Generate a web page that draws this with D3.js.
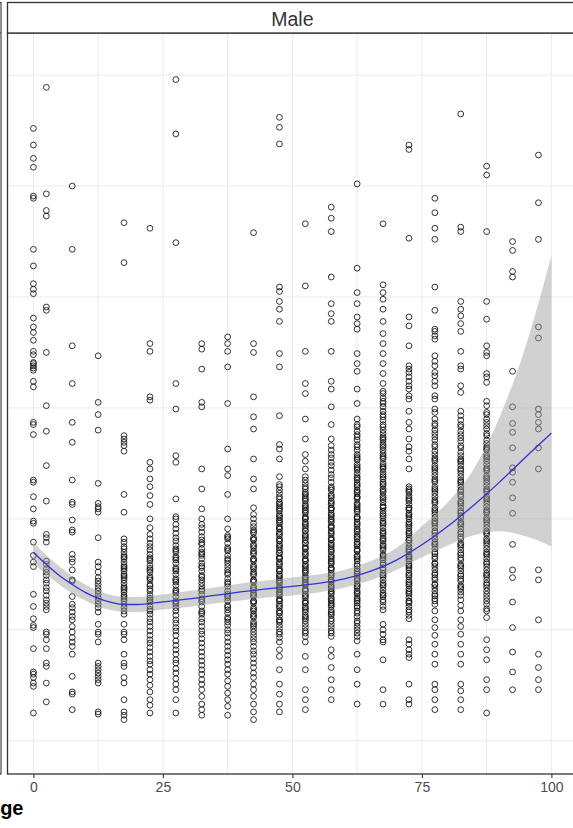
<!DOCTYPE html>
<html>
<head>
<meta charset="utf-8">
<script src="https://cdn.jsdelivr.net/npm/d3@7/dist/d3.min.js"></script>
<style>
  body { margin: 0; background: #fff; }
  svg { display: block; font-family: "Liberation Sans", Arial, Helvetica, sans-serif; }
</style>
</head>
<body>
<svg id="chart" width="573" height="828"></svg>
<script>
// Age groups (x) and the observed values for each group (y)
const ageGroups = [0, 2.5, 7.5, 12.5, 17.5, 22.5, 27.5, 32.5, 37.5, 42.5, 47.5,
                   52.5, 57.5, 62.5, 67.5, 72.5, 77.5, 82.5, 87.5, 92.5, 97.5];

const age0 = [65.2, 63.7, 62.5, 61.7, 58.9, 59.1, 54.3, 52.8, 51.2, 50.7, 50.3, 48.1, 47.3, 46.8, 46.1,
  45.1, 44.8, 44.1, 43.6, 43.8, 44.0, 43.4, 42.4, 41.9, 38.5, 38.7, 37.6, 33.3, 33.5, 32.0, 30.9,
  29.6, 29.8, 27.9, 26.7, 26.1, 25.7, 23.2, 22.1, 21.0, 20.4, 20.2, 18.3, 16.2, 16.0, 15.7, 15.2, 14.9, 12.5];
const age2_5 = [68.9, 59.3, 57.8, 57.3, 49.1, 48.8, 45.0, 40.2, 37.9, 34.8, 31.6, 28.6, 28.3, 27.9,
  26.2, 25.9, 25.5, 25.2, 24.9, 24.5, 24.2, 23.8, 23.5, 23.1, 22.7, 22.4, 22.1, 21.8,
  19.8, 19.6, 19.1, 18.3, 17.0, 16.7, 15.2, 13.5];
const age7_5 = [60.0, 54.3, 45.6, 42.2, 38.7, 36.9, 33.5, 31.3, 31.5, 29.9, 28.8, 29.0, 26.8, 26.4,
  26.1, 25.4, 24.5, 24.4, 23.0, 22.3, 22.0, 21.6, 21.2, 20.9, 20.3, 19.8, 19.3, 18.9, 18.5, 17.8,
  15.8, 14.4, 14.2, 12.8];
const age12_5 = [44.7, 40.5, 39.4, 38.0, 33.2, 31.4, 31.1, 30.9, 30.6, 28.3, 26.1, 25.7, 25.2, 24.7,
  24.4, 24.1, 23.8, 23.5, 23.2, 22.9, 22.6, 22.3, 22.0, 21.6, 20.5, 19.8, 19.6, 18.9, 17.0, 16.7,
  16.4, 16.1, 15.8, 15.5, 15.2, 12.4, 12.6];
const age17_5 = [56.7, 53.1, 37.5, 37.2, 36.9, 36.6, 36.1, 32.2, 30.6, 28.2, 27.9, 27.5, 27.3, 27.0,
  26.7, 26.4, 26.1, 25.8, 25.5, 25.3, 25.0, 24.7, 24.5, 24.2, 23.9, 23.6, 23.4, 23.1, 22.8, 22.6,
  22.3, 22.0, 21.7, 21.4, 20.5, 19.8, 19.6, 19.1, 17.8, 17.0, 16.7, 15.7, 15.2, 13.7, 12.6, 12.3, 11.9,
  26.55, 25.65, 24.85, 23.75, 22.95];
const age22_5 = [56.2, 45.8, 45.1, 41.0, 40.7, 35.1, 34.5, 33.6, 32.9, 32.1, 31.3, 30.0, 29.2, 28.6,
  28.2, 27.8, 27.5, 27.2, 26.8, 26.5, 26.2, 25.8, 25.4, 25.2, 24.8, 24.5, 24.1, 23.7, 23.5, 23.1,
  22.7, 22.5, 22.1, 21.7, 21.4, 21.0, 20.7, 20.3, 19.9, 19.5, 19.1, 18.8, 18.4, 18.0, 17.6, 17.2,
  16.9, 16.4, 16.0, 15.5, 15.0, 14.4, 13.7, 13.2, 12.5,
  26.35, 25.55, 24.65, 23.95, 22.85, 21.85];
const age27_5 = [69.6, 64.7, 54.9, 42.2, 39.9, 35.7, 35.1, 31.8, 30.2, 30.0, 29.5, 29.1, 28.7, 28.3,
  28.0, 27.6, 27.3, 27.0, 26.6, 26.3, 26.0, 25.6, 25.3, 25.0, 24.6, 24.3, 24.0, 23.6, 23.3, 23.0,
  22.6, 22.3, 22.0, 21.7, 21.3, 20.9, 20.6, 20.2, 19.9, 19.5, 19.0, 18.6, 18.2, 17.8, 17.3, 17.0,
  16.5, 16.1, 15.6, 15.1, 14.6, 13.7, 12.5,
  27.15, 26.45, 25.45, 24.45, 23.45, 22.45];
const age32_5 = [45.8, 45.3, 43.5, 40.5, 40.1, 34.5, 32.7, 30.9, 30.0, 29.5, 29.2, 28.8, 28.4, 28.1,
  27.7, 27.3, 27.0, 26.7, 26.4, 26.0, 25.6, 25.3, 24.9, 24.5, 24.2, 23.9, 23.5, 23.2, 22.8, 22.5,
  22.1, 21.7, 21.4, 21.0, 20.7, 20.3, 19.9, 19.6, 19.2, 18.8, 18.4, 18.0, 17.6, 17.2, 16.8, 16.4,
  16.0, 15.5, 15.1, 14.6, 14.0, 13.3, 12.8, 12.3,
  27.85, 26.85, 25.75, 24.75, 23.65, 22.65, 21.55];
const age37_5 = [46.4, 45.8, 45.1, 43.7, 40.4, 36.3, 34.5, 33.9, 32.2, 30.0, 29.1, 28.5, 28.2, 27.8,
  27.4, 27.1, 26.7, 26.4, 26.0, 25.7, 25.4, 25.0, 24.6, 24.3, 23.9, 23.5, 23.2, 22.9, 22.6, 22.2,
  21.8, 21.5, 21.1, 20.7, 20.4, 20.0, 19.7, 19.3, 18.9, 18.5, 18.1, 17.7, 17.3, 16.9, 16.4, 16.0,
  15.4, 14.9, 14.3, 13.7, 13.1, 12.3,
  28.35, 27.25, 26.25, 25.15, 24.15, 23.05, 22.05, 20.95];
const age42_5 = [55.8, 45.8, 45.0, 41.0, 39.2, 38.1, 35.4, 33.6, 32.7, 31.0, 30.4, 30.0, 29.6, 29.3,
  29.0, 28.7, 28.3, 28.1, 27.7, 27.4, 27.1, 26.8, 26.4, 26.2, 25.8, 25.5, 25.2, 24.9, 24.5, 24.3,
  23.9, 23.6, 23.3, 23.0, 22.6, 22.4, 22.0, 21.7, 21.4, 21.1, 20.7, 20.5, 20.1, 19.8, 19.5, 19.2,
  18.9, 18.5, 18.1, 17.8, 17.4, 17.0, 16.6, 16.1, 15.7, 15.1, 14.6, 14.0, 13.3, 12.6, 11.9,
  28.85, 28.15, 27.55, 26.95, 26.35, 25.65, 25.05, 24.45, 23.75, 23.15, 22.55, 21.85, 21.25, 20.35];
const age47_5 = [66.2, 65.3, 63.8, 50.9, 50.5, 49.6, 48.9, 47.8, 44.9, 43.7, 39.3, 36.7, 36.3, 35.4,
  33.8, 33.1, 32.9, 32.6, 32.3, 32.0, 31.8, 31.5, 31.2, 31.0, 30.7, 30.4, 30.1, 29.9, 29.6, 29.3,
  29.1, 28.8, 28.5, 28.2, 28.0, 27.7, 27.4, 27.2, 26.9, 26.6, 26.4, 26.1, 25.8, 25.5, 25.3, 25.0,
  24.7, 24.5, 24.2, 23.9, 23.6, 23.4, 23.1, 22.8, 22.6, 22.3, 22.0, 21.7, 21.5, 21.2, 20.9, 20.7,
  20.4, 20.1, 19.8, 19.6, 19.3, 18.9, 18.2, 17.6, 16.4, 15.1, 14.2, 13.3, 12.6,
  31.35, 30.85, 30.25, 29.75, 29.15, 28.65, 28.05, 27.55, 26.95, 26.45, 25.95, 25.35, 24.85,
  24.35, 23.75, 23.25, 22.65, 22.15, 21.55, 20.85];
const age52_5 = [56.6, 51.0, 45.1, 42.2, 41.3, 39.0, 37.2, 35.8, 35.2, 34.5, 33.8, 33.5, 33.2, 32.9,
  32.7, 32.4, 32.1, 31.9, 31.6, 31.3, 31.0, 30.8, 30.5, 30.2, 30.0, 29.7, 29.4, 29.2, 28.9, 28.6,
  28.3, 28.1, 27.8, 27.5, 27.3, 27.0, 26.7, 26.4, 26.2, 25.9, 25.6, 25.4, 25.1, 24.8, 24.5, 24.3,
  24.0, 23.7, 23.5, 23.2, 22.9, 22.6, 22.4, 22.1, 21.8, 21.6, 21.3, 21.0, 20.8, 20.5, 20.2, 19.9,
  19.7, 19.4, 18.9, 17.6, 16.4, 14.6, 13.7, 12.8,
  32.25, 31.75, 31.15, 30.65, 30.05, 29.55, 28.95, 28.45, 27.85, 27.35, 26.85, 26.25, 25.75,
  25.25, 24.65, 24.15, 23.55, 23.05, 22.45, 21.95, 21.15];
const age57_5 = [58.1, 57.1, 55.9, 51.8, 49.4, 48.5, 47.8, 45.1, 42.4, 41.7, 40.1, 38.5, 37.2, 36.6,
  36.2, 35.8, 35.5, 35.1, 34.8, 34.4, 34.0, 33.7, 33.3, 32.9, 32.6, 32.2, 31.9, 31.6, 31.3, 31.0,
  30.8, 30.5, 30.2, 30.0, 29.7, 29.4, 29.2, 28.9, 28.6, 28.3, 28.1, 27.8, 27.5, 27.3, 27.0, 26.7,
  26.4, 26.2, 25.9, 25.6, 25.4, 25.1, 24.8, 24.5, 24.3, 24.0, 23.7, 23.5, 23.2, 22.9, 22.6, 22.4,
  22.1, 21.8, 21.6, 21.3, 21.0, 20.8, 20.5, 20.2, 19.9, 19.7, 19.4, 18.2, 17.6, 16.6, 15.5, 14.6, 13.7,
  32.75, 32.05, 31.45, 30.95, 30.35, 29.85, 29.25, 28.75, 28.15, 27.65, 27.15, 26.55, 26.05,
  25.55, 24.95, 24.45, 23.85, 23.35, 22.75, 22.25, 21.45];
const age62_5 = [60.2, 52.6, 50.4, 49.4, 48.2, 47.6, 47.1, 44.9, 44.0, 43.3, 41.7, 40.4, 39.0, 38.5,
  38.3, 37.9, 37.6, 37.4, 37.1, 36.7, 36.5, 36.2, 35.8, 35.6, 35.3, 34.9, 34.7, 34.4, 34.1, 33.8,
  33.5, 33.2, 32.9, 32.6, 32.3, 32.0, 31.8, 31.4, 31.1, 30.9, 30.6, 30.2, 30.0, 29.7, 29.4, 29.1,
  28.8, 28.5, 28.2, 27.9, 27.6, 27.3, 27.1, 26.7, 26.4, 26.2, 25.9, 25.5, 25.3, 25.0, 24.7, 24.4,
  24.1, 23.8, 23.5, 23.2, 22.9, 22.6, 22.4, 22.0, 21.7, 21.5, 21.2, 20.8, 20.6, 20.3, 20.0, 19.7,
  19.4, 19.0, 17.8, 16.4, 15.1, 13.3,
  35.45, 34.55, 33.65, 33.05, 32.45, 31.95, 31.25, 30.75, 30.15, 29.55, 28.95, 28.35, 27.75,
  27.15, 26.55, 25.75, 25.15, 24.55, 23.95, 23.35, 22.75, 22.15];
const age67_5 = [56.6, 51.1, 50.4, 49.8, 48.9, 47.8, 46.7, 45.8, 44.9, 44.0, 43.1, 42.2, 41.5, 41.3,
  40.9, 40.6, 40.4, 40.1, 39.7, 39.4, 39.2, 38.9, 38.5, 38.3, 38.0, 37.7, 37.4, 37.1, 36.8, 36.6,
  36.2, 35.9, 35.7, 35.4, 35.0, 34.8, 34.5, 34.2, 33.8, 33.6, 33.3, 33.0, 32.7, 32.4, 32.1, 31.9,
  31.5, 31.2, 31.0, 30.7, 30.3, 30.1, 29.8, 29.5, 29.2, 28.9, 28.6, 28.3, 28.0, 27.7, 27.4, 27.2,
  26.8, 26.5, 26.3, 26.0, 25.6, 25.4, 25.1, 24.8, 24.5, 24.2, 23.9, 23.6, 23.3, 23.0, 22.7, 22.5,
  22.1, 21.8, 20.5, 20.0, 19.6, 19.1, 18.9, 17.3, 14.6, 13.3,
  37.25, 36.45, 35.55, 34.65, 33.95, 33.15, 32.55, 31.75, 31.05, 30.45, 29.65, 28.75, 28.15,
  27.55, 26.65, 25.85, 24.95, 24.05, 23.15];
const age72_5 = [63.7, 63.3, 55.3, 48.2, 47.4, 45.6, 43.8, 43.5, 43.2, 42.8, 42.4, 42.0, 41.7, 41.1,
  40.8, 39.7, 38.7, 38.1, 37.2, 36.5, 36.1, 35.4, 34.5, 32.9, 32.7, 32.4, 32.1, 31.9, 31.6, 31.3,
  31.0, 30.8, 30.5, 30.2, 30.0, 29.7, 29.4, 29.2, 28.9, 28.6, 28.3, 28.1, 27.8, 27.5, 27.3, 27.0,
  26.7, 26.4, 26.2, 25.9, 25.6, 25.4, 25.1, 24.8, 24.5, 24.3, 24.0, 23.7, 23.5, 23.2, 22.9, 22.6,
  22.4, 22.1, 21.8, 21.6, 21.3, 21.0, 19.1, 18.7, 18.2, 17.8, 17.5, 15.1, 13.7, 13.3,
  32.55, 31.75, 30.95, 30.35, 29.55, 28.75, 28.05, 27.15, 26.55, 25.75, 24.95, 24.15, 23.35, 22.55];
const age77_5 = [58.9, 57.6, 56.2, 55.2, 50.9, 48.8, 47.1, 46.9, 46.5, 46.2, 44.7, 44.2, 43.8, 43.2,
  42.9, 42.4, 42.0, 41.1, 40.8, 39.9, 39.6, 39.0, 38.6, 38.4, 38.0, 37.7, 37.4, 37.1, 36.7, 36.5,
  36.1, 35.8, 35.5, 35.2, 34.8, 34.6, 34.2, 33.9, 33.6, 33.3, 32.9, 32.7, 32.3, 32.0, 31.7, 31.4,
  31.0, 30.8, 30.4, 30.1, 29.8, 29.5, 29.2, 28.9, 28.5, 28.2, 27.9, 27.6, 27.3, 27.0, 26.6, 26.4,
  26.0, 25.7, 25.4, 25.1, 24.7, 24.5, 24.1, 23.8, 23.5, 23.2, 22.8, 22.6, 22.3, 21.7, 20.9, 20.2,
  19.5, 18.7, 17.8, 16.9, 15.1, 14.6, 13.7, 12.8,
  35.35, 34.45, 33.45, 32.55, 31.55, 30.65, 29.65, 28.75, 27.75, 26.85, 25.95, 24.95, 24.05, 23.05];
const age82_5 = [66.5, 56.3, 55.9, 49.6, 48.9, 48.3, 47.6, 46.9, 45.1, 43.8, 43.5, 42.0, 41.4, 39.7,
  39.3, 38.9, 38.5, 38.3, 37.9, 37.6, 37.3, 37.0, 36.6, 36.4, 36.0, 35.7, 35.4, 35.1, 34.8, 34.5,
  34.1, 33.8, 33.5, 33.2, 32.9, 32.6, 32.2, 32.0, 31.6, 31.3, 31.0, 30.7, 30.3, 30.1, 29.7, 29.4,
  29.1, 28.8, 28.4, 28.2, 27.8, 27.5, 27.2, 26.9, 26.5, 26.3, 25.9, 25.6, 25.3, 25.0, 24.6, 24.4,
  24.0, 23.7, 23.4, 23.1, 22.7, 22.2, 21.7, 20.9, 20.3, 19.6, 18.7, 17.8, 16.9, 15.1, 14.5, 13.7, 12.8,
  35.25, 34.35, 33.35, 32.45, 31.45, 30.55, 29.55, 28.65, 27.65, 26.75, 25.75, 24.85, 23.85];
const age87_5 = [61.8, 61.0, 55.9, 49.6, 48.0, 45.6, 45.0, 44.7, 43.1, 42.8, 42.3, 40.6, 40.2, 39.6,
  39.4, 39.0, 38.7, 38.4, 38.1, 37.7, 37.5, 37.1, 36.8, 36.5, 36.2, 35.8, 35.6, 35.2, 34.9, 34.6,
  34.3, 33.9, 33.7, 33.3, 33.0, 32.7, 32.4, 32.0, 31.8, 31.4, 31.1, 30.8, 30.5, 30.1, 29.9, 29.5,
  29.2, 28.9, 28.6, 28.2, 28.0, 27.6, 27.3, 27.0, 26.7, 26.4, 26.1, 25.7, 25.4, 25.1, 24.8, 24.5,
  24.2, 23.8, 23.5, 23.2, 22.9, 22.6, 22.3, 21.9, 21.7, 21.1, 19.1, 18.2, 17.3, 15.5, 14.6, 12.5,
  36.35, 35.45, 34.45, 33.55, 32.55, 31.65, 30.65, 29.75, 28.75, 27.85, 26.85, 25.95, 24.95, 24.05];
const age92_5 = [55.0, 54.2, 52.3, 51.8, 43.3, 40.1, 38.6, 37.8, 36.4, 34.6, 34.2, 33.3, 31.9, 30.5,
  27.7, 25.4, 24.7, 22.5, 20.2, 18.0, 16.2, 14.6];
const age97_5 = [62.8, 58.5, 55.2, 47.3, 46.3, 39.9, 39.4, 38.7, 38.1, 36.4, 34.5, 25.4, 24.5, 20.9,
  17.8, 16.6, 15.5, 14.6];

const groupValues = [age0, age2_5, age7_5, age12_5, age17_5, age22_5, age27_5, age32_5, age37_5,
  age42_5, age47_5, age52_5, age57_5, age62_5, age67_5, age72_5, age77_5, age82_5, age87_5,
  age92_5, age97_5];

// Fitted trend with its confidence band
const smoothAge = [0, 2.5, 5, 7.5, 10, 12.5, 15, 17.5, 20, 22.5, 25, 30, 35, 40, 45, 50, 55, 60,
  65, 70, 75, 80, 85, 90, 95, 100];
const smoothFit = [26.98, 25.90, 24.90, 24.09, 23.37, 22.83, 22.47, 22.28, 22.28, 22.38, 22.51, 22.78,
  23.10, 23.41, 23.68, 23.91, 24.18, 24.59, 25.27, 26.26, 27.66, 29.33, 31.23, 33.31, 35.56, 37.73];
const smoothHi = [27.89, 26.71, 25.72, 24.81, 24.09, 23.50, 23.14, 22.96, 22.96, 23.05, 23.19, 23.50,
  23.82, 24.18, 24.45, 24.72, 24.99, 25.40, 26.17, 27.34, 29.33, 31.50, 34.48, 39.18, 45.50, 53.72];
const smoothLo = [25.99, 24.99, 24.09, 23.28, 22.65, 22.10, 21.79, 21.61, 21.61, 21.70, 21.83, 22.06,
  22.38, 22.65, 22.92, 23.10, 23.37, 23.78, 24.45, 25.36, 26.53, 27.61, 28.52, 28.88, 28.43, 27.52];

const xTicks = [0, 25, 50, 75, 100];
const xGrid = [0, 12.5, 25, 37.5, 50, 62.5, 75, 87.5, 100];
const yGrid = [10, 20, 30, 40, 50, 60, 70];
const facetLabel = "Male";
const xTitle = "Age";

// ---- layout ----
const svg = d3.select("#chart");
const panel = { left: 7.5, right: 577.3, top: 33, bottom: 774 };
const strip = { top: 2.5, bottom: 33 };

const x = d3.scaleLinear().domain([-5, 105]).range([panel.left, panel.right]);
const y = d3.scaleLinear().domain([7.0, 73.8]).range([panel.bottom, panel.top]);

// neighbouring facet panel edge (left)
svg.append("rect")
  .attr("x", -200).attr("y", strip.top).attr("width", 201).attr("height", panel.bottom - strip.top)
  .attr("fill", "none").attr("stroke", "#333").attr("stroke-width", 1.1);
svg.append("line")
  .attr("x1", -200).attr("x2", 1).attr("y1", strip.bottom).attr("y2", strip.bottom)
  .attr("stroke", "#333").attr("stroke-width", 1.1);

svg.append("defs").append("clipPath").attr("id", "panelClip")
  .append("rect").attr("x", panel.left).attr("y", panel.top)
  .attr("width", panel.right - panel.left).attr("height", panel.bottom - panel.top);

const g = svg.append("g").attr("clip-path", "url(#panelClip)");

// grid
g.selectAll("line.vg").data(xGrid).join("line")
  .attr("x1", d => x(d)).attr("x2", d => x(d))
  .attr("y1", panel.top).attr("y2", panel.bottom)
  .attr("stroke", "#ebebeb").attr("stroke-width", 1);
g.selectAll("line.hg").data(yGrid).join("line")
  .attr("y1", d => y(d)).attr("y2", d => y(d))
  .attr("x1", panel.left).attr("x2", panel.right)
  .attr("stroke", "#ebebeb").attr("stroke-width", 1);

// observations
const pts = [];
ageGroups.forEach((a, i) => groupValues[i].forEach(v => pts.push([a, v])));
g.append("g").selectAll("circle").data(pts).join("circle")
  .attr("cx", d => x(d[0])).attr("cy", d => y(d[1])).attr("r", 2.9)
  .attr("fill", "none").attr("stroke", "#111").attr("stroke-width", 0.85);

// confidence band and fitted line
const band = smoothAge.map((a, i) => ({ a, lo: smoothLo[i], hi: smoothHi[i], fit: smoothFit[i] }));
g.append("path").datum(band)
  .attr("d", d3.area().curve(d3.curveMonotoneX)
    .x(d => x(d.a)).y0(d => y(d.lo)).y1(d => y(d.hi)))
  .attr("fill", "#999999").attr("fill-opacity", 0.45);
g.append("path").datum(band)
  .attr("d", d3.line().curve(d3.curveMonotoneX).x(d => x(d.a)).y(d => y(d.fit)))
  .attr("fill", "none").attr("stroke", "#3232d6").attr("stroke-width", 1.3);

// panel border
svg.append("rect")
  .attr("x", panel.left).attr("y", panel.top)
  .attr("width", panel.right - panel.left).attr("height", panel.bottom - panel.top)
  .attr("fill", "none").attr("stroke", "#333").attr("stroke-width", 1.3);

// strip
svg.append("rect")
  .attr("x", panel.left).attr("y", strip.top)
  .attr("width", panel.right - panel.left).attr("height", strip.bottom - strip.top)
  .attr("fill", "#fff").attr("stroke", "#333").attr("stroke-width", 1.3);
svg.append("text")
  .attr("x", (panel.left + panel.right) / 2).attr("y", 25.5)
  .attr("text-anchor", "middle").attr("font-size", 19.5).attr("fill", "#333")
  .text(facetLabel);

// x axis
const xAxis = svg.append("g").attr("transform", `translate(0,${panel.bottom})`)
  .call(d3.axisBottom(x).tickValues(xTicks).tickSize(4).tickPadding(4).tickFormat(d3.format("d")));
xAxis.select(".domain").remove();
xAxis.selectAll(".tick line").attr("stroke", "#333").attr("stroke-width", 1.1);
xAxis.selectAll(".tick text").attr("fill", "#4d4d4d").attr("font-size", 14)
  .attr("font-family", "'Liberation Sans', Arial, sans-serif");

svg.append("text")
  .attr("x", 23.5).attr("y", 815)
  .attr("text-anchor", "end").attr("font-size", 20).attr("font-weight", "bold").attr("fill", "#000")
  .text(xTitle);
</script>
</body>
</html>
